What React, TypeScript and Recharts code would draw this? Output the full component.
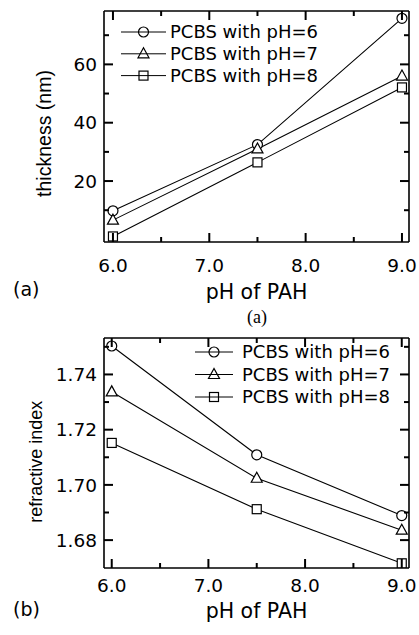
import { LineChart, Line, XAxis, YAxis, Legend } from 'recharts';

// pH of the PAH dipping solution
const phPAH = [6.0, 7.5, 9.0];

// (a) film thickness, nm
const thicknessPH6 = [9.8, 32.5, 75.8];
const thicknessPH7 = [6.6, 31.0, 56.0];
const thicknessPH8 = [1.0, 26.4, 52.1];

// (b) refractive index
const indexPH6 = [1.7503, 1.7109, 1.6889];
const indexPH7 = [1.7337, 1.7024, 1.6836];
const indexPH8 = [1.7152, 1.6912, 1.6716];

const seriesKeys = ['pH6', 'pH7', 'pH8'];
const seriesNames = ['PCBS with pH=6', 'PCBS with pH=7', 'PCBS with pH=8'];
const markerShapes = ['circle', 'triangle', 'square'];

const xMajor = [6, 7, 8, 9];
const xMinor = [6.5, 7.5, 8.5];
const thicknessMajor = [20, 40, 60];
const thicknessMinor = [10, 30, 50, 70];
const indexMajor = [1.68, 1.7, 1.72, 1.74];
const indexMinor = [1.69, 1.71, 1.73, 1.75];

const thicknessData = phPAH.map((x, i) => ({
  x,
  pH6: thicknessPH6[i],
  pH7: thicknessPH7[i],
  pH8: thicknessPH8[i],
}));

const indexData = phPAH.map((x, i) => ({
  x,
  pH6: indexPH6[i],
  pH7: indexPH7[i],
  pH8: indexPH8[i],
}));

const SANS = '"DejaVu Sans", sans-serif';
const ARIAL = '"Liberation Sans", Arial, sans-serif';
const SERIF = '"Liberation Serif", serif';
const PLOT_LEFT = 104;

function Marker({ shape, cx, cy, fill }: { shape: string; cx: number; cy: number; fill: string }) {
  const common = { stroke: '#000', strokeWidth: 1.2, fill };
  if (shape === 'circle') return <circle cx={cx} cy={cy} r={5} {...common} />;
  if (shape === 'triangle')
    return <polygon points={`${cx},${cy - 6} ${cx - 5.5},${cy + 4} ${cx + 5.5},${cy + 4}`} {...common} />;
  return <rect x={cx - 4.5} y={cy - 4.5} width={9} height={9} {...common} />;
}

const tickLen = (major: boolean) => (major ? 9 : 5);

// labels for the bottom / left axes
function labelTick(side: 'bottom' | 'left', fmt: (v: number) => string, majors: number[], gap: number) {
  return (props: any) => {
    const { x, y, payload, index } = props;
    const v = payload.value;
    if (!majors.includes(v)) return <g key={index} />;
    return side === 'bottom' ? (
      <text key={index} x={x} y={y + gap} textAnchor="middle" fontFamily={SANS} fontSize={18.5} fill="#000">
        {fmt(v)}
      </text>
    ) : (
      <text key={index} x={x - gap} y={y} dy="0.36em" textAnchor="end" fontFamily={SANS} fontSize={18.5} fill="#000">
        {fmt(v)}
      </text>
    );
  };
}

// inward tick marks on the top and bottom of the frame
function xTickMarks(majors: number[], plotBottom: number) {
  return (props: any) => {
    const { x, y, payload, index } = props;
    const len = tickLen(majors.includes(payload.value));
    return (
      <g key={index}>
        <line x1={x} y1={y} x2={x} y2={y + len} stroke="#000" strokeWidth={2} />
        <line x1={x} y1={plotBottom} x2={x} y2={plotBottom - len} stroke="#000" strokeWidth={2} />
      </g>
    );
  };
}

// inward tick marks on the right and left of the frame
function yTickMarks(majors: number[]) {
  return (props: any) => {
    const { x, y, payload, index } = props;
    const len = tickLen(majors.includes(payload.value));
    return (
      <g key={index}>
        <line x1={x} y1={y} x2={x - len} y2={y} stroke="#000" strokeWidth={2} />
        <line x1={PLOT_LEFT} y1={y} x2={PLOT_LEFT + len} y2={y} stroke="#000" strokeWidth={2} />
      </g>
    );
  };
}

interface LegendGeom {
  left: number;
  top: number;
  lineLen: number;
  textX: number;
  rowGap: number;
}

function makeLegend(g: LegendGeom) {
  return ({ payload }: any) => {
    if (!payload) return null;
    return (
      <svg width={220} height={75} style={{ display: 'block' }}>
        {payload.map((entry: any, i: number) => {
          const k = seriesKeys.indexOf(entry.dataKey);
          const cy = 11 + i * g.rowGap;
          return (
            <g key={entry.dataKey}>
              <line x1={0} y1={cy} x2={g.lineLen} y2={cy} stroke="#000" strokeWidth={1} />
              <Marker shape={markerShapes[k]} cx={g.lineLen / 2} cy={cy} fill="none" />
              <text x={g.textX} y={cy} dy="0.36em" fontFamily={SANS} fontSize={18} fill="#000">
                {seriesNames[k]}
              </text>
            </g>
          );
        })}
      </svg>
    );
  };
}

const xTicks = [...xMajor, ...xMinor].sort((a, b) => a - b);

interface PanelProps {
  data: any[];
  height: number;
  marginTop: number;
  xAxisHeight: number;
  xDomain: [number, number];
  yDomain: [number, number];
  yMajor: number[];
  yMinor: number[];
  yFmt: (v: number) => string;
  xTickGap: number;
  legend: LegendGeom;
}

function Panel(p: PanelProps) {
  const yTicks = [...p.yMajor, ...p.yMinor].sort((a, b) => a - b);
  const plotBottom = p.height - p.xAxisHeight;
  return (
    <LineChart width={419} height={p.height} data={p.data} margin={{ top: p.marginTop - 1, right: 9, bottom: 0, left: 0 }}>
      <XAxis
        xAxisId="b"
        dataKey="x"
        type="number"
        domain={p.xDomain}
        allowDataOverflow
        ticks={xTicks}
        interval={0}
        height={p.xAxisHeight}
        tickSize={0}
        tickMargin={0}
        tickLine={false}
        axisLine={{ stroke: '#000', strokeWidth: 1.6 }}
        tick={labelTick('bottom', (v) => v.toFixed(1), xMajor, p.xTickGap)}
      />
      <YAxis
        yAxisId="l"
        type="number"
        domain={p.yDomain}
        allowDataOverflow
        ticks={yTicks}
        interval={0}
        width={PLOT_LEFT}
        tickSize={0}
        tickMargin={0}
        tickLine={false}
        axisLine={{ stroke: '#000', strokeWidth: 1.6 }}
        tick={labelTick('left', p.yFmt, p.yMajor, 7)}
      />
      <XAxis
        xAxisId="t"
        orientation="top"
        dataKey="x"
        type="number"
        domain={p.xDomain}
        allowDataOverflow
        ticks={xTicks}
        interval={0}
        height={1}
        tickSize={0}
        tickMargin={0}
        tickLine={false}
        axisLine={{ stroke: '#000', strokeWidth: 1.6 }}
        tick={xTickMarks(xMajor, plotBottom)}
      />
      <YAxis
        yAxisId="r"
        orientation="right"
        type="number"
        domain={p.yDomain}
        allowDataOverflow
        ticks={yTicks}
        interval={0}
        width={1}
        tickSize={0}
        tickMargin={0}
        tickLine={false}
        axisLine={{ stroke: '#000', strokeWidth: 1.6 }}
        tick={yTickMarks(p.yMajor)}
      />
      <Legend
        layout="vertical"
        align="center"
        verticalAlign="middle"
        wrapperStyle={{ left: p.legend.left, top: p.legend.top, width: 220, height: 75 }}
        content={makeLegend(p.legend)}
      />
      {seriesKeys.map((key, k) => (
        <Line
          key={key}
          xAxisId="b"
          yAxisId="l"
          dataKey={key}
          name={seriesNames[k]}
          stroke="#000"
          strokeWidth={1.1}
          isAnimationActive={false}
          dot={(d: any) => <Marker key={`${key}-${d.index}`} shape={markerShapes[k]} cx={d.cx} cy={d.cy} fill="#fff" />}
          activeDot={false}
        />
      ))}
    </LineChart>
  );
}

export default function App() {
  return (
    <div style={{ position: 'absolute', left: 0, top: 0, width: 419, height: 635 }}>
      <div style={{ position: 'absolute', left: 0, top: 0 }}>
        <Panel
          data={thicknessData}
          height={320}
          marginTop={11}
          xAxisHeight={78}
          xDomain={[5.907, 9.073]}
          yDomain={[-0.9, 78.3]}
          yMajor={thicknessMajor}
          yMinor={thicknessMinor}
          yFmt={(v) => String(v)}
          xTickGap={30}
          legend={{ left: 121, top: 21, lineLen: 45, textX: 49, rowGap: 21.8 }}
        />
      </div>
      <div style={{ position: 'absolute', left: 0, top: 320 }}>
        <Panel
          data={indexData}
          height={315}
          marginTop={18}
          xAxisHeight={67}
          xDomain={[5.92, 9.075]}
          yDomain={[1.6699, 1.7532]}
          yMajor={indexMajor}
          yMinor={indexMinor}
          yFmt={(v) => v.toFixed(2)}
          xTickGap={24}
          legend={{ left: 195, top: 21, lineLen: 38, textX: 47, rowGap: 22.5 }}
        />
      </div>
      <svg width={419} height={635} style={{ position: 'absolute', left: 0, top: 0, pointerEvents: 'none' }}>
        <text x={256.5} y={299} textAnchor="middle" fontFamily={SANS} fontSize={20.5} fill="#000">pH of PAH</text>
        <text x={256.5} y={618} textAnchor="middle" fontFamily={SANS} fontSize={20.5} fill="#000">pH of PAH</text>
        <text x={43.5} y={133.5} transform="rotate(-90, 43.5, 133.5)" textAnchor="middle" dominantBaseline="central" fontFamily={ARIAL} fontSize={19.5} fill="#000">
          thickness (nm)
        </text>
        <text x={36} y={461.7} transform="rotate(-90, 36, 461.7)" textAnchor="middle" dominantBaseline="central" fontFamily={ARIAL} fontSize={18} fill="#000">
          refractive index
        </text>
        <text x={13} y={296} fontFamily={SANS} fontSize={19} fill="#000">(a)</text>
        <text x={257} y={323} textAnchor="middle" fontFamily={SERIF} fontSize={18} fill="#000">(a)</text>
        <text x={13} y={616} fontFamily={SANS} fontSize={19} fill="#000">(b)</text>
      </svg>
    </div>
  );
}
